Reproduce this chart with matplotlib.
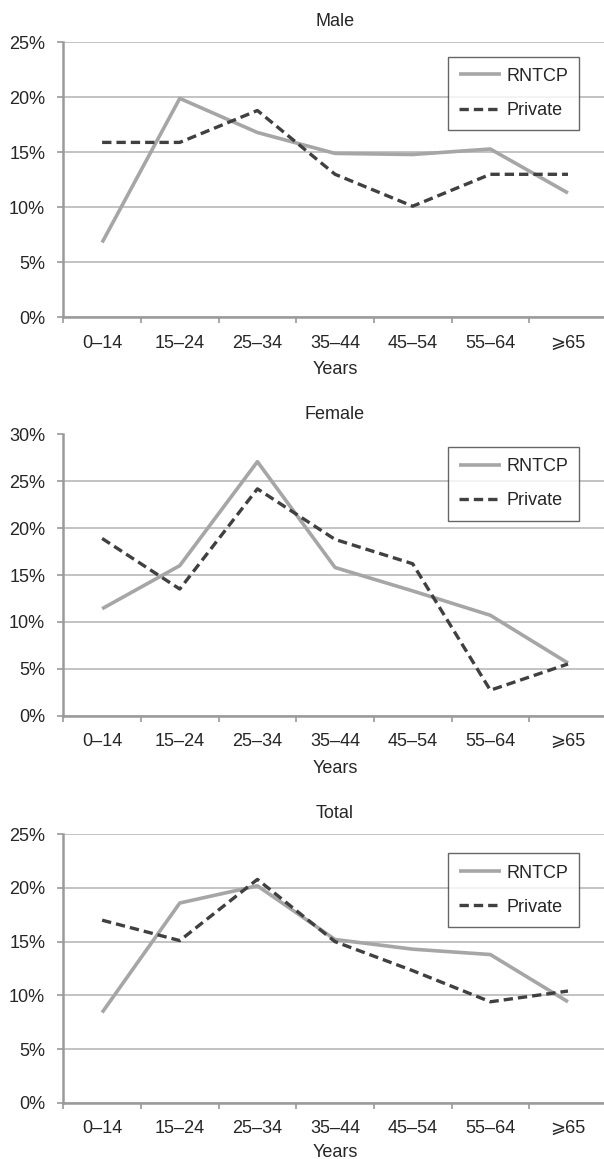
import matplotlib
matplotlib.use("Agg")
import matplotlib.pyplot as plt
from matplotlib.ticker import FixedLocator, PercentFormatter

plt.rcParams['font.family'] = ['Liberation Sans', 'DejaVu Sans']

categories = ["0\u201314", "15\u201324", "25\u201334", "35\u201344", "45\u201354", "55\u201364", "\u2a7e65"]

male_rntcp = [6.8, 19.9, 16.8, 14.9, 14.8, 15.3, 11.3]
male_private = [15.9, 15.9, 18.8, 13.0, 10.1, 13.0, 13.0]

female_rntcp = [11.4, 16.0, 27.1, 15.8, 13.3, 10.7, 5.6]
female_private = [18.9, 13.5, 24.2, 18.8, 16.2, 2.7, 5.5]

total_rntcp = [8.4, 18.6, 20.2, 15.2, 14.3, 13.8, 9.4]
total_private = [17.0, 15.1, 20.8, 15.0, 12.3, 9.4, 10.4]

panels = [
    ("Male", male_rntcp, male_private, 25, 42.3, 317.3, 0.948, 7),
    ("Female", female_rntcp, female_private, 30, 434.5, 715.5, 0.955, 7),
    ("Total", total_rntcp, total_private, 25, 834.3, 1102.7, 0.929, 5.2),
]

W, H = 604, 1159
fig = plt.figure(figsize=(W / 100, H / 100), dpi=100)

TEXT = "#262626"
GRID = "#b3b3b3"
SPINE = "#9a9a9a"
FS = 13

left_px, right_px = 63.3, 606.8
for title, rntcp, private, ymax, top_px, bot_px, legy, xlpad in panels:
    ax = fig.add_axes([left_px / W, 1 - bot_px / H, (right_px - left_px) / W, (bot_px - top_px) / H])
    x = list(range(len(categories)))
    ax.plot(x, rntcp, color="#a6a6a6", lw=2.6, solid_capstyle="butt", label="RNTCP", zorder=3)
    ax.plot(x, private, color="#404040", lw=2.4, dashes=(2.8, 1.5), dash_capstyle="butt",
            label="Private", zorder=4)
    ax.set_xlim(-0.5, len(categories) - 0.5)
    ax.set_ylim(0, ymax)
    ax.yaxis.set_major_locator(FixedLocator(list(range(0, ymax + 1, 5))))
    ax.yaxis.set_major_formatter(PercentFormatter(decimals=0))
    ax.set_xticks(x)
    ax.set_xticklabels(categories)
    ax.set_xticks([i - 0.5 for i in range(len(categories) + 1)], minor=True)
    ax.tick_params(axis="x", which="major", length=0, pad=12.5, labelsize=FS, labelcolor=TEXT)
    ax.tick_params(axis="x", which="minor", length=4, width=1.2, color=SPINE, direction="out")
    ax.tick_params(axis="y", which="major", length=4, width=1.2, color=SPINE, pad=9,
                   labelsize=FS, labelcolor=TEXT)
    ax.grid(axis="y", color=GRID, lw=1.1, zorder=0)
    ax.set_axisbelow(True)
    for s in ["top", "right"]:
        ax.spines[s].set_visible(False)
    for s in ["left", "bottom"]:
        ax.spines[s].set_color(SPINE)
        ax.spines[s].set_linewidth(1.8)
    ax.set_title(title, fontsize=FS, color=TEXT, pad=11.5)
    ax.set_xlabel("Years", fontsize=FS, color=TEXT, labelpad=xlpad)
    leg = ax.legend(loc="upper right", bbox_to_anchor=(0.9494, legy), borderaxespad=0,
                    fontsize=FS, frameon=True, fancybox=False, handlelength=2.33,
                    handletextpad=0.3, borderpad=0.62, labelspacing=0.95)
    leg.get_frame().set_edgecolor("#404040")
    leg.get_frame().set_linewidth(1.0)
    for t in leg.get_texts():
        t.set_color(TEXT)

fig.savefig("out.png", dpi=100, facecolor="white")
